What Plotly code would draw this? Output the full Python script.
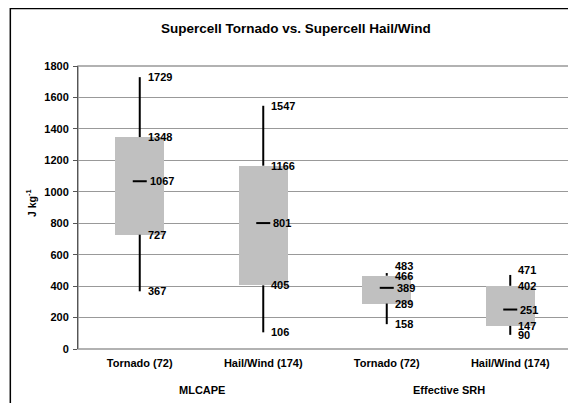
import plotly.graph_objects as go

# data
categories = ["Tornado (72)", "Hail/Wind (174)", "Tornado (72)", "Hail/Wind (174)"]
groups = ["MLCAPE", "Effective SRH"]
high = [1729, 1547, 483, 471]
box_top = [1348, 1166, 466, 402]
median = [1067, 801, 389, 251]
box_bottom = [727, 405, 289, 147]
low = [367, 106, 158, 90]
y_ticks = [0, 200, 400, 600, 800, 1000, 1200, 1400, 1600, 1800]

FONT = "Liberation Sans, Arial, sans-serif"
pos = list(range(len(categories)))

fig = go.Figure()

# gray open-close boxes
fig.add_trace(go.Bar(
    x=pos,
    y=[t - b for t, b in zip(box_top, box_bottom)],
    base=box_bottom,
    width=0.4,
    marker=dict(color="#C0C0C0", line=dict(width=0)),
    hoverinfo="skip",
    showlegend=False
))

# high-low lines, only outside the box
wx, wy = [], []
for i in pos:
    wx += [i, i, None, i, i, None]
    wy += [high[i], box_top[i], None, box_bottom[i], low[i], None]
fig.add_trace(go.Scatter(
    x=wx, y=wy, mode="lines",
    line=dict(color="black", width=2),
    hoverinfo="skip", showlegend=False
))

# median dash
fig.add_trace(go.Scatter(
    x=pos, y=median, mode="markers",
    marker=dict(symbol="line-ew", size=10, line=dict(color="black", width=2)),
    hoverinfo="skip", showlegend=False
))

# value labels
nudge = {(2, 0): 7, (3, 0): 5}
annotations = []
for i in pos:
    vals = [high[i], box_top[i], median[i], box_bottom[i], low[i]]
    for k, v in enumerate(vals):
        annotations.append(dict(
            x=i, y=v, xref="x", yref="y", text=str(v), showarrow=False,
            xanchor="left", yanchor="middle",
            xshift=8 if k == 2 else 6, yshift=nudge.get((i, k), 0),
            font=dict(family=FONT, size=11, color="black", weight="bold")
        ))

# group labels under the categories
for g, name in enumerate(groups):
    annotations.append(dict(
        x=2 * g + 0.5, y=0, xref="x", yref="paper", yshift=-41,
        text=name, showarrow=False, xanchor="center", yanchor="middle",
        font=dict(family=FONT, size=11, color="black", weight="bold")
    ))

# title and axis title
annotations.append(dict(
    x=0.441, y=1.134, xref="paper", yref="paper",
    text="Supercell Tornado vs. Supercell Hail/Wind", showarrow=False,
    xanchor="center", yanchor="middle",
    font=dict(family=FONT, size=13.5, color="black", weight="bold")
))
annotations.append(dict(
    x=-0.095, y=0.516, xref="paper", yref="paper",
    text="J kg<sup>-1</sup>", showarrow=False, textangle=-90,
    xanchor="center", yanchor="middle",
    font=dict(family=FONT, size=10.5, color="black", weight="bold")
))

# page body has an 8px margin, so the figure is 8px smaller
fig.update_layout(
    width=568, height=395,
    margin=dict(l=70, r=4, t=58, b=54),
    paper_bgcolor="white", plot_bgcolor="white",
    annotations=annotations,
    bargap=0,
    shapes=[
        dict(type="rect", xref="paper", yref="paper", x0=0, x1=1, y0=0, y1=1,
             line=dict(color="#999999", width=1.5), layer="below"),
        dict(type="rect", xref="paper", yref="paper",
             x0=-0.137, x1=1.5, y0=-0.5, y1=1.203,
             line=dict(color="black", width=1.5))
    ]
)

fig.update_xaxes(
    range=[-0.5, 3.5], tickvals=pos, ticktext=categories,
    showgrid=False, zeroline=False, showline=False, ticks="",
    ticklabelstandoff=6,
    tickfont=dict(family=FONT, size=11, color="black", weight="bold")
)
fig.update_yaxes(
    range=[0, 1800], tickvals=y_ticks,
    showgrid=True, gridcolor="#999999", gridwidth=1, zeroline=False,
    showline=True, linecolor="#555555", linewidth=1,
    ticks="outside", ticklen=4, tickcolor="#555555", ticklabelstandoff=2,
    tickfont=dict(family=FONT, size=11, color="black", weight="bold")
)

fig.write_html("out.html")
